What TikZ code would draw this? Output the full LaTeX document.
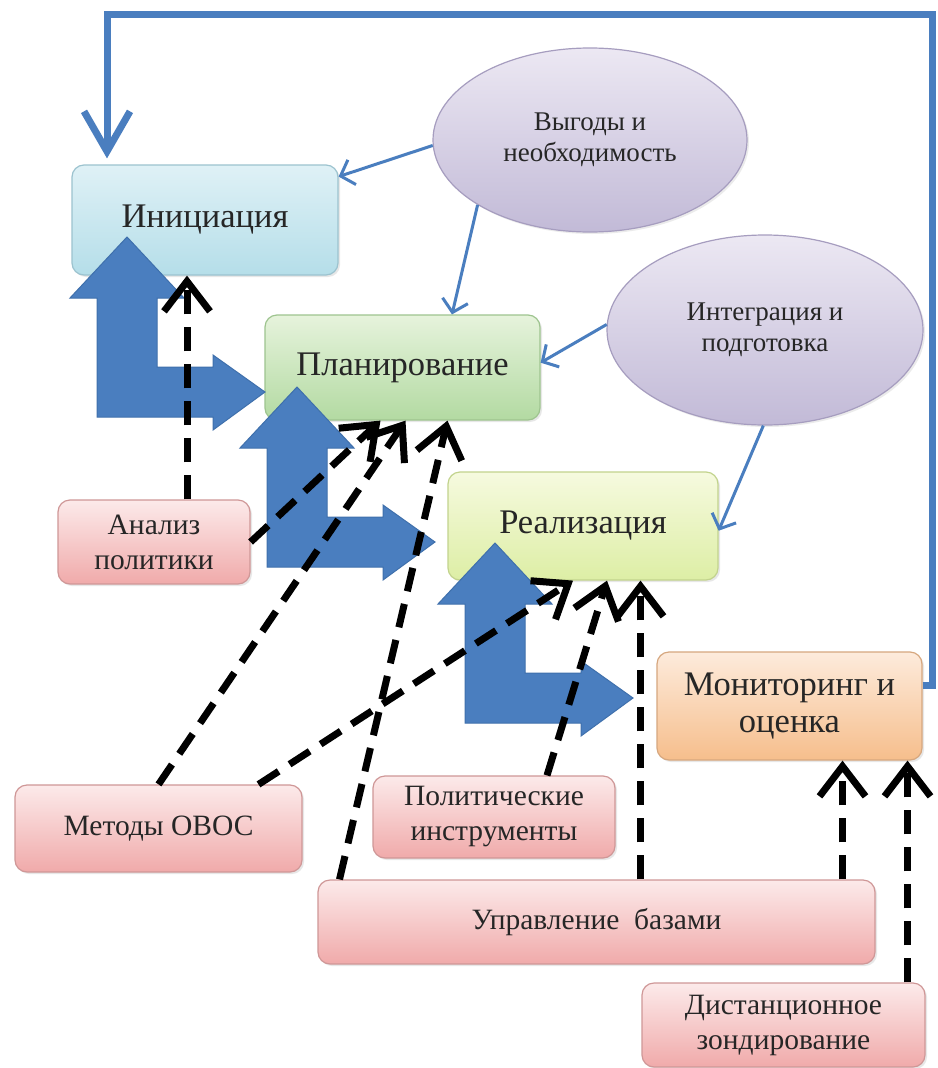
\documentclass[tikz,border=0pt]{standalone}
\usepackage{fontspec}
\setmainfont{Liberation Serif}
\usetikzlibrary{arrows.meta,shapes.geometric,calc,shadings,shadows}
\definecolor{txt}{HTML}{262626}
\definecolor{inittop}{HTML}{DFF1F6}\definecolor{initbot}{HTML}{B5DEE9}\definecolor{initdraw}{HTML}{9CC3CF}
\definecolor{plantop}{HTML}{E6F3DC}\definecolor{planbot}{HTML}{B3DAA2}\definecolor{plandraw}{HTML}{9EC48F}
\definecolor{realtop}{HTML}{F6FADF}\definecolor{realbot}{HTML}{DDEEA5}\definecolor{realdraw}{HTML}{C2D38D}
\definecolor{montop}{HTML}{FDEBDC}\definecolor{monbot}{HTML}{F6BE8C}\definecolor{mondraw}{HTML}{D6A77F}
\definecolor{pinktop}{HTML}{FCEAEA}\definecolor{pinkbot}{HTML}{F0AAAA}\definecolor{pinkdraw}{HTML}{CF9797}
\definecolor{elltop}{HTML}{ECE8F3}\definecolor{ellbot}{HTML}{C2BAD7}\definecolor{elldraw}{HTML}{A69DBF}
\definecolor{bigblue}{HTML}{4A7EBF}\definecolor{bigbluedraw}{HTML}{3F70AC}
\tikzset{
  stage/.style={rounded corners=12pt, line width=1.2pt, align=center, inner sep=0pt,
    text=txt, drop shadow={shadow xshift=2pt,shadow yshift=-2pt,fill=black!18}},
  titlebox/.style={stage, font=\fontsize{34.5}{37}\selectfont},
  initbox/.style={titlebox, draw=initdraw, top color=inittop, bottom color=initbot},
  planbox/.style={titlebox, draw=plandraw, top color=plantop, bottom color=planbot},
  realbox/.style={titlebox, draw=realdraw, top color=realtop, bottom color=realbot},
  monbox/.style={titlebox, draw=mondraw, top color=montop, bottom color=monbot},
  pinkbox/.style={stage, draw=pinkdraw, top color=pinktop, bottom color=pinkbot,
    font=\fontsize{29.5}{35}\selectfont},
  ellbox/.style={ellipse, draw=elldraw, line width=1.2pt, top color=elltop, bottom color=ellbot,
    align=center, inner sep=0pt, text=txt, font=\fontsize{27}{31}\selectfont,
    drop shadow={shadow xshift=2pt,shadow yshift=-2pt,fill=black!15}},
  thinarrow/.style={draw=bigblue, line width=3pt, -{Straight Barb[length=12pt,width=26pt]}},
  looparrow/.style={draw=bigblue, line width=7pt, line join=miter, -{Straight Barb[length=40pt,width=46pt]}},
  dasharrow/.style={draw=black, line width=7pt, dash pattern=on 24pt off 13pt,
    -{Straight Barb[length=30pt,width=46pt]}},
  pics/lbig/.style={code={
    \fill[bigblue, draw=bigbluedraw, line width=1pt] (30,-180) -- (87,-119) -- (60,-119) -- (60,-50)
      -- (116,-50) -- (116,-62) -- (168,-25) -- (116,13) -- (116,0) -- (0,0) -- (0,-119)
      -- (-27,-119) -- cycle;
  }}
}
\begin{document}
\begin{tikzpicture}[x=1pt,y=-1pt]
\useasboundingbox[fill=white] (0,0) rectangle (937,1068);

% ellipses
\node[ellbox, minimum width=314pt, minimum height=184pt] (e1) at (590,140) {Выгоды и\\необходимость};
\node[ellbox, minimum width=316pt, minimum height=190pt] (e2) at (765,330) {Интеграция и\\подготовка};

% stage boxes
\node[initbox, minimum width=266pt, minimum height=110pt] (init) at (205,220) {Инициация};
\node[planbox, minimum width=275pt, minimum height=105pt] (plan) at (402.5,367.5) {Планирование};
\node[realbox, minimum width=270pt, minimum height=108pt] (real) at (583,526) {Реализация};
\node[monbox, minimum width=265pt, minimum height=108pt] (mon) at (789.5,706) {Мониторинг и\\оценка};

% pink boxes
\node[pinkbox, minimum width=192pt, minimum height=84pt] (ana) at (154,542) {Анализ\\политики};
\node[pinkbox, minimum width=287pt, minimum height=87pt] (ovos) at (158.5,828.5) {Методы ОВОС};
\node[pinkbox, minimum width=242pt, minimum height=82pt] (pol) at (494,817) {Политические\\инструменты};
\node[pinkbox, minimum width=557pt, minimum height=84pt] (upr) at (596.5,922) {Управление~~базами};
\node[pinkbox, minimum width=283pt, minimum height=84pt] (dist) at (783.5,1025) {Дистанционное\\зондирование};

% thin blue arrows
\draw[thinarrow] (e1.182) -- (init.18);
\draw[thinarrow] (e1.210) -- (plan.47);
\draw[thinarrow] (e2.178) -- (plan.2);
\draw[thinarrow] (e2.269) -- (real.358);

% feedback loop
\coordinate (lpTR) at (932,14);
\draw[looparrow] ([yshift=21pt]mon.east) -| (lpTR) -| ([xshift=-98pt,yshift=6pt]init.north);

% big L arrows
\pic at (97,417) {lbig};
\pic at (267,567) {lbig};
\pic at (465,723) {lbig};

% dashed arrows
\draw[dasharrow] ([xshift=33pt]ana.north) -- ([xshift=33pt]ana.north |- init.south);
\draw[dasharrow] (ana.east) -- ([xshift=-22pt]plan.south);
\draw[dasharrow] (ovos.north) -- ([xshift=3pt]plan.south);
\draw[dasharrow] ([xshift=-257pt]upr.north) -- ([xshift=45pt]plan.south);
\draw[dasharrow] ([xshift=100pt]ovos.north) -- ([xshift=-10pt]real.south);
\draw[dasharrow] ([xshift=53pt]pol.north) -- ([xshift=24pt]real.south);
\draw[dasharrow] ([xshift=44pt]upr.north) -- ([xshift=44pt]upr.north |- real.south);
\draw[dasharrow] ([xshift=246pt]upr.north) -- ([xshift=246pt]upr.north |- mon.south);
\draw[dasharrow] ([xshift=124pt]dist.north) -- ([xshift=124pt]dist.north |- mon.south);
\end{tikzpicture}
\end{document}
